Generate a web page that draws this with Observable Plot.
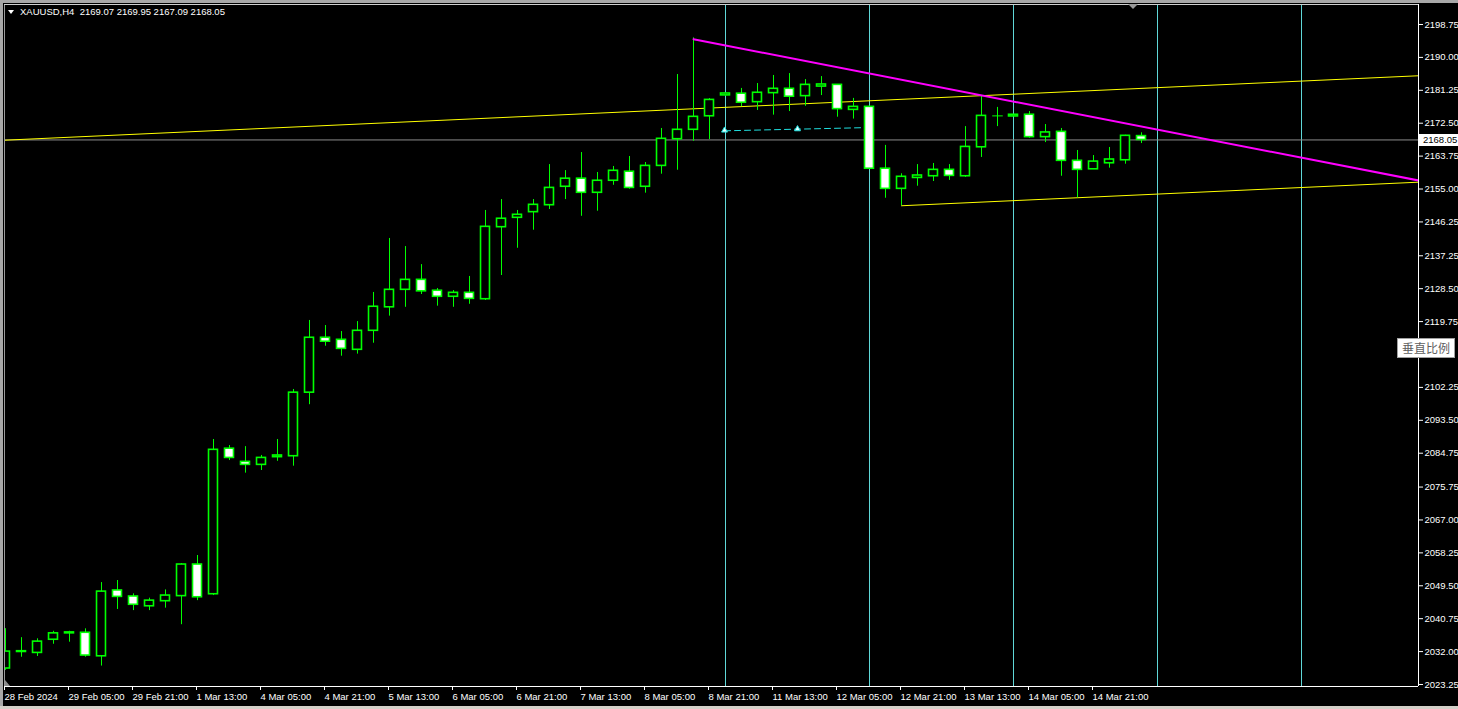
<!DOCTYPE html>
<html>
<head>
<meta charset="utf-8">
<script src="https://cdn.jsdelivr.net/npm/d3@7"></script>
<script src="https://cdn.jsdelivr.net/npm/@observablehq/plot@0.6"></script>
<style>
  html, body { margin: 0; padding: 0; background: #000; overflow: hidden; }
  #wrap { position: relative; width: 1458px; height: 709px; background: #000; }
  #wrap svg { display: block; }
  .ov { position: absolute; font-family: "Liberation Sans", Arial, sans-serif; font-size: 9.5px; white-space: pre; }
</style>
</head>
<body>
<div id="wrap"></div>
<script>
// ---------- data (H4 bars, XAUUSD) ----------
const symbolLabel = "XAUUSD,H4";
const opens  = [2027.5,2031.9,2031.65,2035.15,2036.85,2037.0,2030.75,2048.25,2046.65,2044.05,2045.4,2046.75,2055.15,2047.25,2085.95,2082.45,2081.65,2083.7,2083.95,2100.85,2115.45,2114.9,2112.25,2117.3,2123.55,2128.2,2130.85,2127.95,2126.35,2127.4,2125.7,2144.85,2147.35,2148.85,2150.7,2155.6,2157.75,2154.0,2157.2,2159.6,2155.6,2161.15,2168.25,2170.75,2174.35,2179.9,2180.35,2178.1,2180.5,2181.65,2179.7,2182.25,2182.7,2176.05,2176.85,2160.4,2155.05,2157.95,2158.4,2160.1,2158.4,2166.1,2174.45,2174.3,2174.75,2168.8,2170.2,2162.5,2160.25,2161.85,2162.65,2169.07];
const highs  = [2038.1,2035.7,2035.4,2037.4,2037.4,2038.05,2050.35,2050.9,2047.35,2046.2,2048.4,2055.4,2057.55,2088.4,2086.8,2086.5,2084.15,2088.4,2101.7,2120.05,2118.7,2117.1,2119.75,2127.5,2141.85,2139.7,2134.9,2128.55,2128.0,2131.75,2149.3,2152.2,2149.3,2152.2,2161.5,2159.9,2164.7,2159.4,2161.0,2163.65,2162.05,2171.1,2185.45,2195.2,2179.05,2180.6,2181.75,2183.05,2185.2,2185.7,2184.1,2184.9,2182.8,2179.1,2177.0,2166.6,2159.05,2161.5,2161.8,2161.5,2171.6,2179.8,2176.7,2174.8,2175.6,2172.15,2171.1,2165.25,2163.9,2166.05,2169.3,2169.95];
const lows   = [2027.0,2030.5,2030.7,2033.95,2034.5,2030.5,2028.15,2043.2,2042.9,2042.9,2043.55,2039.15,2045.55,2046.9,2082.8,2079.45,2080.15,2082.6,2081.3,2097.65,2113.2,2110.55,2111.1,2114.0,2121.2,2123.55,2126.95,2123.85,2123.55,2124.35,2125.35,2132.0,2139.25,2144.05,2149.55,2152.2,2147.75,2149.1,2156.0,2154.95,2153.9,2158.95,2160.0,2167.7,2168.15,2179.7,2176.9,2175.9,2174.65,2175.6,2177.0,2179.85,2174.1,2173.6,2160.2,2152.55,2150.55,2155.75,2157.0,2157.3,2158.1,2163.4,2171.6,2174.3,2168.5,2167.35,2158.4,2152.65,2160.25,2160.55,2161.6,2167.09];
const closes = [2032.0,2032.1,2034.65,2036.85,2037.1,2030.95,2047.95,2046.55,2044.45,2045.55,2046.9,2055.15,2046.45,2085.65,2083.5,2081.65,2083.5,2084.15,2100.85,2115.45,2114.4,2112.5,2117.3,2123.7,2128.2,2130.85,2127.8,2126.35,2127.4,2125.8,2144.95,2147.1,2148.15,2150.8,2155.3,2157.75,2154.0,2157.2,2159.85,2155.3,2161.15,2168.35,2170.75,2174.2,2178.7,2180.4,2177.95,2180.6,2181.65,2179.55,2182.7,2182.8,2176.25,2176.85,2160.4,2155.05,2158.25,2158.6,2160.1,2158.5,2166.2,2174.45,2174.45,2174.75,2168.8,2170.05,2162.5,2160.1,2162.3,2162.85,2169.15,2168.05];

// time axis: bar index of each label and its text
const timeTickBars = [0,4,8,12,16,20,24,28,32,36,40,44,48,52,56,60,64,68];
const timeTickLabels = ["28 Feb 2024","29 Feb 05:00","29 Feb 21:00","1 Mar 13:00","4 Mar 05:00","4 Mar 21:00","5 Mar 13:00","6 Mar 05:00","6 Mar 21:00","7 Mar 13:00","8 Mar 05:00","8 Mar 21:00","11 Mar 13:00","12 Mar 05:00","12 Mar 21:00","13 Mar 13:00","14 Mar 05:00","14 Mar 21:00"];
// price axis tick labels (2111.00 hidden behind the button)
const priceTicks = [2198.75,2190.00,2181.25,2172.50,2163.75,2155.00,2146.25,2137.25,2128.50,2119.75,2102.25,2093.50,2084.75,2075.75,2067.00,2058.25,2049.50,2040.75,2032.00,2023.25];

// drawn objects
const bidPrice = 2168.05;
const verticalLineBars = [45,54,63,72,81];
const channelUpper = [{i:-0.0625, p:2167.98},{i:88.3125, p:2185.12}];
const channelLower = [{i:56, p:2150.55},{i:88.3125, p:2156.82}];
const magentaTrend = [{i:43, p:2194.84},{i:88.3125, p:2157.27}];
const cyanDashed   = [{i:44.94, p:2170.48},{i:54.1, p:2171.36}];
const cyanArrows   = [{i:44.94, p:2170.6},{i:49.5, p:2170.95}];

const xDomain = [-0.0625, 88.3125];
const yDomain = [2022.716, 2204.068];

const candles = opens.map((o, i) => ({i, o, h: highs[i], l: lows[i], c: closes[i]}));
const flat = candles.filter(d => d.o === d.c);
const GREEN = "#00ff00";
const HW = 0.28;

const plot = Plot.plot({
  width: 1458, height: 709,
  marginLeft: 4, marginRight: 40, marginTop: 4, marginBottom: 23,
  style: {background: "#000", color: "#fff", fontFamily: "'Liberation Sans', Arial, sans-serif", fontSize: "9.5px"},
  x: {type: "linear", domain: xDomain, axis: null, label: null},
  y: {type: "linear", domain: yDomain, axis: null, label: null},
  marks: [
    Plot.ruleX(verticalLineBars, {x: d => d, stroke: "#5fd7d7", strokeWidth: 1}),
    Plot.ruleY([bidPrice], {y: d => d, stroke: "#8c8c8c", strokeWidth: 1}),
    Plot.line(channelUpper, {x: "i", y: "p", stroke: "#ffff00", strokeWidth: 1, clip: true}),
    Plot.line(channelLower, {x: "i", y: "p", stroke: "#ffff00", strokeWidth: 1, clip: true}),
    Plot.line(cyanDashed, {x: "i", y: "p", stroke: "#20e0e0", strokeWidth: 1, strokeDasharray: "6,4"}),
    Plot.dot(cyanArrows, {x: "i", y: "p", symbol: "triangle", r: 2.2, fill: "#e8ffff", stroke: "#20e0e0", strokeWidth: 1}),
    Plot.ruleX(candles, {x: "i", y1: "l", y2: "h", stroke: GREEN, strokeWidth: 1, clip: true}),
    Plot.rect(candles, {x1: d => d.i - HW, x2: d => d.i + HW, y1: "o", y2: "c",
      fill: d => d.c >= d.o ? "#000" : "#fff", stroke: GREEN, strokeWidth: 1.6, clip: true}),
    Plot.link(flat, {x1: d => d.i - 0.33, x2: d => d.i + 0.33, y1: "o", y2: "c", stroke: GREEN, strokeWidth: 1}),
    Plot.line(magentaTrend, {x: "i", y: "p", stroke: "#ff00ff", strokeWidth: 2, clip: true}),
    // chart border
    Plot.ruleX([xDomain[1]], {x: d => d, stroke: "#fff"}),
    Plot.ruleY([yDomain[0]], {y: d => d, stroke: "#fff"}),
    Plot.ruleX([xDomain[0]], {x: d => d, stroke: "#9a9a9a"}),
    Plot.ruleY([yDomain[1]], {y: d => d, stroke: "#d0d0d0"}),
    Plot.axisY({anchor: "right", label: null, ticks: priceTicks, tickFormat: d => d.toFixed(2), tickSize: 4, tickPadding: 2, color: "#fff", fontSize: 9.5}),
    Plot.axisX({anchor: "bottom", label: null, ticks: timeTickBars, tickFormat: d => timeTickLabels[timeTickBars.indexOf(d)],
      tickSize: 4, tickPadding: 3, textAnchor: "start", dx: -1, color: "#fff", fontSize: 9.5})
  ]
});

const wrap = document.getElementById("wrap");
wrap.appendChild(plot);

const ys = plot.scale("y");
const xs = plot.scale("x");

function ov(html, css) {
  const d = document.createElement("div");
  d.className = "ov";
  d.innerHTML = html;
  Object.assign(d.style, css);
  wrap.appendChild(d);
  return d;
}

// window edges
ov("", {left: "0px", top: "0px", width: "1458px", height: "3px", background: "#a8a8a8"});
ov("", {left: "0px", top: "0px", width: "3px", height: "706px", background: "#a8a8a8"});
ov("", {left: "0px", top: "706px", width: "1458px", height: "3px", background: "#d4d0c8"});

// title
ov("", {left: "8px", top: "10px", width: "0", height: "0", borderLeft: "3px solid transparent", borderRight: "3px solid transparent", borderTop: "4px solid #fff"});
ov(symbolLabel + "  " + [opens[71], highs[71], lows[71], closes[71]].map(v => v.toFixed(2)).join(" "),
   {left: "20px", top: "6px", color: "#fff", lineHeight: "12px"});

// bid price label on the axis
const yb = ys.apply(bidPrice);
ov(bidPrice.toFixed(2), {left: "1419px", top: (yb - 5.5) + "px", width: "39px", height: "12px", lineHeight: "12px",
  background: "#fff", color: "#000", paddingLeft: "4px", boxSizing: "border-box"});

// button
ov("垂直比例", {left: "1397px", top: "338px", width: "58px", height: "20px", boxSizing: "border-box",
  border: "1px solid #a0a0a0", background: "#fff", color: "#606060", textAlign: "center",
  fontFamily: "'Noto Sans CJK SC', sans-serif", fontSize: "12px", lineHeight: "18px"});

// chart-shift marker at top and small marker at bottom-left
const xShift = xs.apply(70.5);
ov("", {left: (xShift - 5) + "px", top: "4px", width: "0", height: "0", borderLeft: "5px solid transparent", borderRight: "5px solid transparent", borderTop: "5px solid #9a9a9a"});
ov("", {left: "5px", top: "680px", width: "0", height: "0", borderLeft: "5px solid #8a8a8a", borderTop: "6px solid transparent"});
</script>
</body>
</html>
